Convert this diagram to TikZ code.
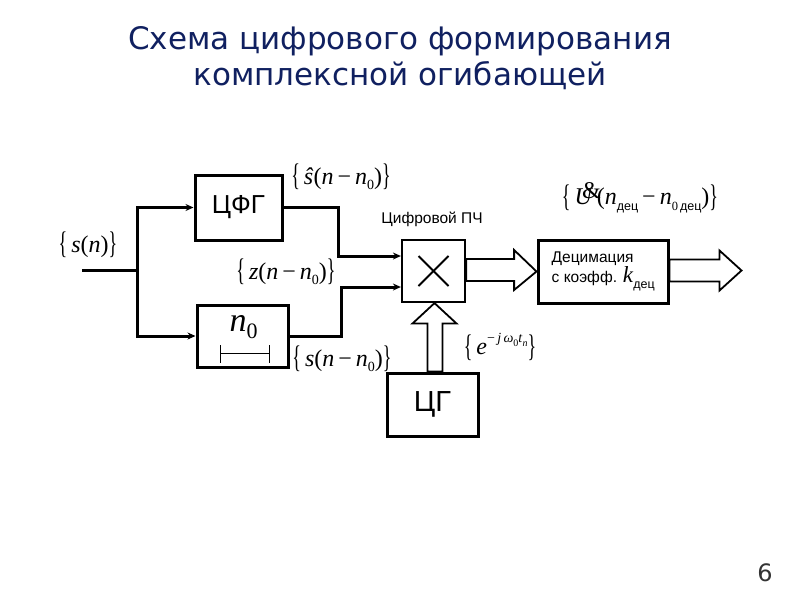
\documentclass[tikz,border=0pt]{standalone}
\usepackage{fontspec}
\usepackage{graphicx}
\setmainfont{Liberation Serif}
\newfontfamily\titlefont{DejaVu Sans}
\newfontfamily\boxfont{Liberation Sans}
\usetikzlibrary{arrows.meta,calc}
\definecolor{titleblue}{RGB}{16,32,96}
\newcommand{\dc}{{\boxfont дец}}
\newcommand{\lbr}{\raisebox{-1.5pt}{\scalebox{0.75}[1.3]{\{}}\,}
\newcommand{\rbr}{\raisebox{-1.5pt}{\scalebox{0.75}[1.3]{\}}}}
\newcommand{\iv}[1]{\textit{#1}}
\newcommand{\sub}[1]{\raisebox{-0.22em}{\fontsize{14}{14}\selectfont #1}}
\newcommand{\csub}[1]{\raisebox{-0.25em}{\fontsize{12.5}{13}\selectfont #1}}
\newcommand{\mns}{\,−\,}
\begin{document}
\begin{tikzpicture}[x=1pt,y=-1pt,
  blk/.style={draw,line width=3pt,inner sep=0pt,font=\boxfont\fontsize{26}{28}\selectfont},
  wire/.style={line width=3pt},
  arr/.style={line width=3pt,-{Stealth[length=8pt,width=7pt]}},
  hollow/.style={draw,line width=1.8pt,fill=white,line join=miter},
  lbl/.style={font=\fontsize{24}{26}\selectfont,inner sep=0pt}]
\useasboundingbox (0,0) rectangle (800,600);
% title
\node[font=\titlefont\fontsize{31}{36}\selectfont,text=titleblue,align=center] (title) at (400,58)
  {Схема цифрового формирования\\комплексной огибающей};
% blocks
\node[blk,minimum width=87pt,minimum height=65pt] (cfg) at (238.5,207.5) {ЦФГ};
\node[blk,minimum width=91pt,minimum height=62pt] (del) at (242.5,336) {};
\node[inner sep=0pt,font=\fontsize{34}{34}\selectfont] (n0) at ($(del.center)+(1,-9)$) {\iv{n}\raisebox{-0.2em}{\fontsize{22}{22}\selectfont 0}};
\draw[line width=0.9pt] ($(del.center)+(-22,17)$) coordinate (b1) -- ($(del.center)+(27,17)$) coordinate (b2);
\draw[line width=0.9pt] ($(b1)+(0,-8)$) -- ($(b1)+(0,10)$);
\draw[line width=0.9pt] ($(b2)+(0,-8)$) -- ($(b2)+(0,10)$);
\node[draw,line width=2.2pt,minimum width=63pt,minimum height=62pt,inner sep=0pt] (mul) at (433.5,271) {};
\draw[line width=1.8pt] ($(mul.center)+(-15,-15)$) -- ($(mul.center)+(15,15)$);
\draw[line width=1.8pt] ($(mul.center)+(-15,15)$) -- ($(mul.center)+(15,-15)$);
\node[blk,minimum width=130pt,minimum height=63pt] (dec) at (603,271.5) {};
\node[anchor=west,align=left,inner sep=0pt,font=\boxfont\fontsize{15.5}{18}\selectfont] (dect) at ($(dec.west)+(15,0)$)
  {Децимация\\с коэфф. {\rmfamily\fontsize{23}{18}\selectfont\iv{k}\csub{\boxfont дец}}};
\node[blk,minimum width=91pt,minimum height=63pt,font=\boxfont\fontsize{29}{30}\selectfont] (cg) at (432.5,404.5) {ЦГ};
% input and branches
\coordinate (in) at (82,270);
\coordinate (j) at (137,270);
\draw[wire] (in) -- (j);
\draw[arr] ($(j)+(0,1.5)$) |- (cfg.west);
\draw[arr] ($(j)+(0,-1.5)$) |- (del.west);
\draw[arr] (cfg.east) -| ($(mul.west)+(-62,-15)$) -- ($(mul.west)+(0,-15)$);
\draw[arr] (del.east) -| ($(mul.west)+(-59,16)$) -- ($(mul.west)+(0,16)$);
% hollow arrows
\draw[hollow] ($(mul.east)+(0,-12)$) -- ($(mul.east)+(48,-12)$) -- ($(mul.east)+(48,-21)$)
  -- (dec.west) -- ($(mul.east)+(48,19)$) -- ($(mul.east)+(48,10)$) -- ($(mul.east)+(0,10)$) -- cycle;
\draw[hollow] ($(dec.east)+(0,-12)$) -- ($(dec.east)+(50,-12)$) -- ($(dec.east)+(50,-21)$)
  -- ($(dec.east)+(72,-1)$) -- ($(dec.east)+(50,19)$) -- ($(dec.east)+(50,10)$) -- ($(dec.east)+(0,10)$) -- cycle;
\draw[hollow] ($(cg.north)+(-5,0)$) -- ($(cg.north)+(-5,-48)$) -- ($(cg.north)+(-20,-48)$)
  -- ($(mul.south)+(1,0)$) -- ($(cg.north)+(24,-48)$) -- ($(cg.north)+(10,-48)$) -- ($(cg.north)+(10,0)$) -- cycle;
% labels
\node[lbl] (ls) at (88,245) {\lbr\iv{s}(\iv{n})\rbr};
\node[lbl] (lsh) at (341,177) {\lbr\iv{ŝ}(\iv{n}\mns\iv{n}\sub{0})\rbr};
\node[lbl] (lz) at (286,272) {\lbr\iv{z}(\iv{n}\mns\iv{n}\sub{0})\rbr};
\node[lbl] (lsd) at (342,359) {\lbr\iv{s}(\iv{n}\mns\iv{n}\sub{0})\rbr};
\node[lbl] (le) at (500,347) {\lbr\iv{e}\raisebox{0.5em}{\fontsize{14}{14}\selectfont−\,\iv{j}\,\iv{ω}\raisebox{-0.25em}{\fontsize{10}{10}\selectfont 0}\iv{t}\raisebox{-0.25em}{\fontsize{10}{10}\selectfont\iv{n}}}\rbr};
\node[lbl] (lu) at (640,198) {\lbr\iv{U}\hspace{-11pt}\raisebox{6pt}{\&}\hspace{-4pt}(\iv{n}\csub{\dc}\mns\iv{n}\csub{0\,\dc})\rbr};
\node[font=\boxfont\fontsize{15.5}{17}\selectfont] (pch) at (432,219) {Цифровой ПЧ};
\node[font=\titlefont\fontsize{24}{26}\selectfont,text=black!80] (pg) at (765,573) {6};
\end{tikzpicture}
\end{document}
